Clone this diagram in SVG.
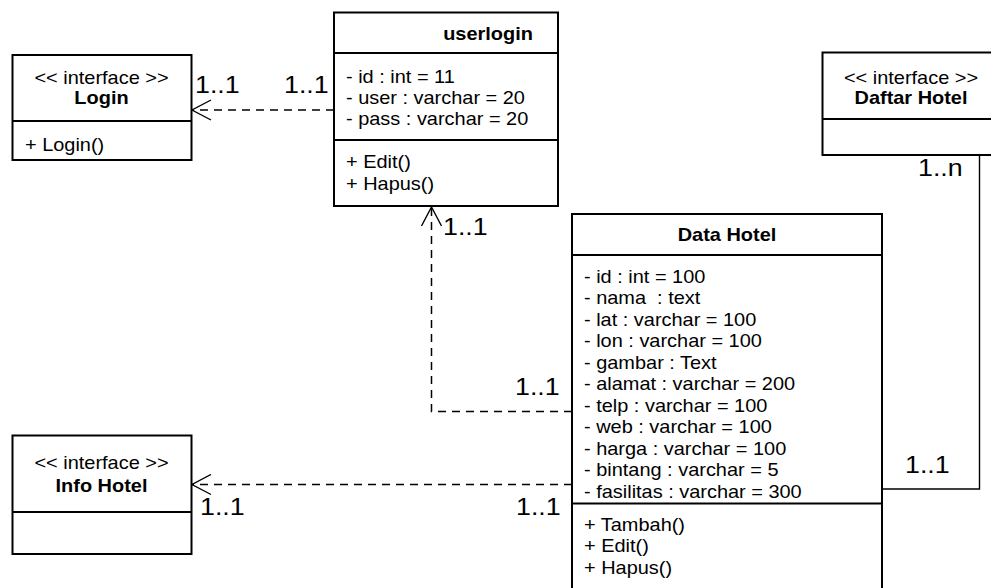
<svg xmlns="http://www.w3.org/2000/svg" width="991" height="588" viewBox="0 0 991 588">
  <style>
    .box { fill: #fff; stroke: #000; stroke-width: 2; }
    .sep { stroke: #000; stroke-width: 2; }
    .t { font-family: "Liberation Sans", Arial, sans-serif; font-size: 17.5px; fill: #000; }
    .b { font-weight: bold; }
    .m { font-family: "Liberation Sans", Arial, sans-serif; font-size: 23.5px; fill: #000; }
    .dash { fill: none; stroke: #000; stroke-width: 1.5; stroke-dasharray: 8 6; }
    .solid { fill: none; stroke: #000; stroke-width: 1.4; }
  </style>
  <defs>
    <marker id="open" viewBox="0 0 22 22" refX="21" refY="11" markerWidth="22" markerHeight="22" markerUnits="userSpaceOnUse" orient="auto">
      <path d="M2,1 L21,11 L2,21" fill="none" stroke="#000" stroke-width="1.4" stroke-dasharray="none"/>
    </marker>
  </defs>
  <rect width="991" height="588" fill="#fff"/>

  <!-- connectors -->
  <g id="connectors">
    <path class="dash" d="M334,110 H192" marker-end="url(#open)"/>
    <path class="dash" d="M572,411.5 H431.5 V207" marker-end="url(#open)"/>
    <path class="dash" d="M572,484.5 H192" marker-end="url(#open)"/>
    <path class="solid" d="M882,489 H979.5 V155"/>
  </g>

  <!-- multiplicities -->
  <g id="labels">
    <g transform="translate(195,0) scale(1.14,1)"><text class="m" x="0" y="93">1..1</text></g>
    <g transform="translate(284,0) scale(1.14,1)"><text class="m" x="0" y="93">1..1</text></g>
    <g transform="translate(918,0) scale(1.14,1)"><text class="m" x="0" y="176">1..n</text></g>
    <g transform="translate(443,0) scale(1.14,1)"><text class="m" x="0" y="235">1..1</text></g>
    <g transform="translate(515,0) scale(1.14,1)"><text class="m" x="0" y="395">1..1</text></g>
    <g transform="translate(905,0) scale(1.14,1)"><text class="m" x="0" y="473">1..1</text></g>
    <g transform="translate(200,0) scale(1.14,1)"><text class="m" x="0" y="515">1..1</text></g>
    <g transform="translate(516,0) scale(1.14,1)"><text class="m" x="0" y="515">1..1</text></g>
  </g>

  <!-- Login interface -->
  <g id="login">
    <rect class="box" x="12.5" y="55" width="179" height="105"/>
    <line class="sep" x1="12.5" y1="121" x2="191.5" y2="121"/>
    <g transform="translate(101.5,0) scale(1.14,1)">
      <text class="t" x="0" y="84.5" text-anchor="middle">&lt;&lt; interface &gt;&gt;</text>
      <text class="t b" x="0" y="104" text-anchor="middle">Login</text>
    </g>
    <g transform="translate(25,0) scale(1.14,1)">
      <text class="t" x="0" y="151">+ Login()</text>
    </g>
  </g>

  <!-- userlogin class -->
  <g id="userlogin">
    <rect class="box" x="334" y="12.5" width="224" height="193.5"/>
    <line class="sep" x1="334" y1="53" x2="558" y2="53"/>
    <line class="sep" x1="334" y1="140" x2="558" y2="140"/>
    <g transform="translate(488,0) scale(1.14,1)">
      <text class="t b" x="0" y="40" text-anchor="middle">userlogin</text>
    </g>
    <g transform="translate(346,0) scale(1.14,1)">
      <text class="t" x="0" y="83">- id : int = 11</text>
      <text class="t" x="0" y="104">- user : varchar = 20</text>
      <text class="t" x="0" y="125">- pass : varchar = 20</text>
      <text class="t" x="0" y="168">+ Edit()</text>
      <text class="t" x="0" y="190">+ Hapus()</text>
    </g>
  </g>

  <!-- Daftar Hotel interface -->
  <g id="daftar-hotel">
    <rect class="box" x="822.5" y="52.5" width="190" height="102.5"/>
    <line class="sep" x1="822.5" y1="119" x2="1000" y2="119"/>
    <g transform="translate(911,0) scale(1.14,1)">
      <text class="t" x="0" y="84.5" text-anchor="middle">&lt;&lt; interface &gt;&gt;</text>
      <text class="t b" x="0" y="104" text-anchor="middle">Daftar Hotel</text>
    </g>
  </g>

  <!-- Data Hotel class -->
  <g id="data-hotel">
    <rect class="box" x="572" y="214" width="310" height="390"/>
    <line class="sep" x1="572" y1="255" x2="882" y2="255"/>
    <line class="sep" x1="572" y1="503.5" x2="882" y2="503.5"/>
    <g transform="translate(727,0) scale(1.14,1)">
      <text class="t b" x="0" y="241" text-anchor="middle">Data Hotel</text>
    </g>
    <g transform="translate(584,0) scale(1.14,1)">
      <text class="t" x="0" y="283">- id : int = 100</text>
      <text class="t" x="0" y="304.5">- nama &#160;: text</text>
      <text class="t" x="0" y="326">- lat : varchar = 100</text>
      <text class="t" x="0" y="347.5">- lon : varchar = 100</text>
      <text class="t" x="0" y="369">- gambar : Text</text>
      <text class="t" x="0" y="390.5">- alamat : varchar = 200</text>
      <text class="t" x="0" y="412">- telp : varchar = 100</text>
      <text class="t" x="0" y="433.5">- web : varchar = 100</text>
      <text class="t" x="0" y="455">- harga : varchar = 100</text>
      <text class="t" x="0" y="476.5">- bintang : varchar = 5</text>
      <text class="t" x="0" y="498">- fasilitas : varchar = 300</text>
      <text class="t" x="0" y="531">+ Tambah()</text>
      <text class="t" x="0" y="552.5">+ Edit()</text>
      <text class="t" x="0" y="574">+ Hapus()</text>
    </g>
  </g>

  <!-- Info Hotel interface -->
  <g id="info-hotel">
    <rect class="box" x="12.5" y="435.5" width="179" height="118.5"/>
    <line class="sep" x1="12.5" y1="512" x2="191.5" y2="512"/>
    <g transform="translate(101.5,0) scale(1.14,1)">
      <text class="t" x="0" y="469" text-anchor="middle">&lt;&lt; interface &gt;&gt;</text>
      <text class="t b" x="0" y="492" text-anchor="middle">Info Hotel</text>
    </g>
  </g>
</svg>
